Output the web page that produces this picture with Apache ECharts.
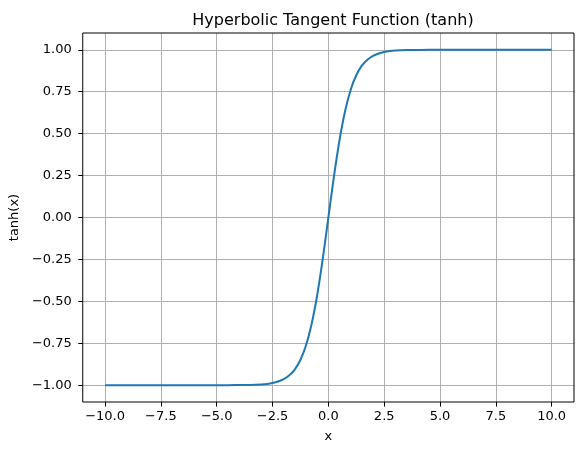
<!DOCTYPE html>
<html lang="en">
  <head>
    <meta charset="UTF-8" />
    <title>tanh</title>
    <script src="https://cdn.jsdelivr.net/npm/echarts@6.0.0/dist/echarts.min.js"></script>
    <style>
      * {
        padding: 0;
        margin: 0;
      }
      #main {
        width: 587px;
        height: 455px;
        background: #fff;
      }
    </style>
  </head>
  <body>
    <div id="main"></div>
    <script>
      // points
      var xValues = [
        -10, -9, -8, -7, -6, -5, -4.5, -4, -3.5, -3, -2.75, -2.5, -2.25, -2,
        -1.75, -1.5, -1.25, -1, -0.75, -0.5, -0.25, 0, 0.25, 0.5, 0.75, 1,
        1.25, 1.5, 1.75, 2, 2.25, 2.5, 2.75, 3, 3.5, 4, 4.5, 5, 6, 7, 8, 9, 10,
      ];
      var yValues = [
        -1, -1, -1, -1, -1, -1, -1, -0.999, -0.998, -0.995, -0.992, -0.987,
        -0.978, -0.964, -0.941, -0.905, -0.848, -0.762, -0.635, -0.462, -0.245,
        0, 0.245, 0.462, 0.635, 0.762, 0.848, 0.905, 0.941, 0.964, 0.978,
        0.987, 0.992, 0.995, 0.998, 0.999, 1, 1, 1, 1, 1, 1, 1,
      ];
      var xTicks = [-10, -7.5, -5, -2.5, 0, 2.5, 5, 7.5, 10];
      var yTicks = [-1, -0.75, -0.5, -0.25, 0, 0.25, 0.5, 0.75, 1];

      var font = "DejaVu Sans";
      function fmt(v, d) {
        return v.toFixed(d).replace("-", "\u2212");
      }

      var myChart = echarts.init(document.getElementById("main"));
      var option = {
        backgroundColor: "#ffffff",
        animation: false,
        title: {
          text: "Hyperbolic Tangent Function (tanh)",
          left: 328,
          textAlign: "center",
          top: 8,
          textStyle: {
            fontFamily: font,
            fontSize: 16,
            fontWeight: "normal",
            color: "#000",
          },
        },
        grid: {
          left: 82,
          right: 13,
          top: 33,
          bottom: 53,
          show: true,
          borderColor: "#000",
          borderWidth: 1,
          z: 3,
        },
        xAxis: {
          type: "value",
          min: -11,
          max: 11,
          name: "x",
          nameLocation: "middle",
          nameGap: 28,
          nameTextStyle: { fontFamily: font, fontSize: 13, color: "#000" },
          axisLine: { show: false, onZero: false },
          axisTick: {
            show: true,
            length: 4.5,
            customValues: xTicks,
            lineStyle: { color: "#000" },
          },
          axisLabel: {
            customValues: xTicks,
            margin: 8,
            fontFamily: font,
            fontSize: 13,
            color: "#000",
            formatter: function (v) {
              return fmt(v, 1);
            },
          },
          splitLine: {
            show: true,
            lineStyle: { color: "#b0b0b0", width: 1 },
          },
        },
        yAxis: {
          type: "value",
          min: -1.1,
          max: 1.1,
          name: "tanh(x)",
          nameLocation: "middle",
          nameGap: 58,
          nameTextStyle: { fontFamily: font, fontSize: 13, color: "#000" },
          axisLine: { show: false, onZero: false },
          axisTick: {
            show: true,
            length: 4.5,
            customValues: yTicks,
            lineStyle: { color: "#000" },
          },
          axisLabel: {
            customValues: yTicks,
            margin: 11,
            fontFamily: font,
            fontSize: 13,
            color: "#000",
            formatter: function (v) {
              return fmt(v, 2);
            },
          },
          splitLine: {
            show: true,
            lineStyle: { color: "#b0b0b0", width: 1 },
          },
        },
        series: [
          {
            type: "line",
            data: xValues.map(function (x, i) {
              return [x, yValues[i]];
            }),
            showSymbol: false,
            smooth: 0.3,
            lineStyle: { color: "#1f77b4", width: 2 },
            itemStyle: { color: "#1f77b4" },
          },
        ],
      };
      myChart.setOption(option);
    </script>
  </body>
</html>
